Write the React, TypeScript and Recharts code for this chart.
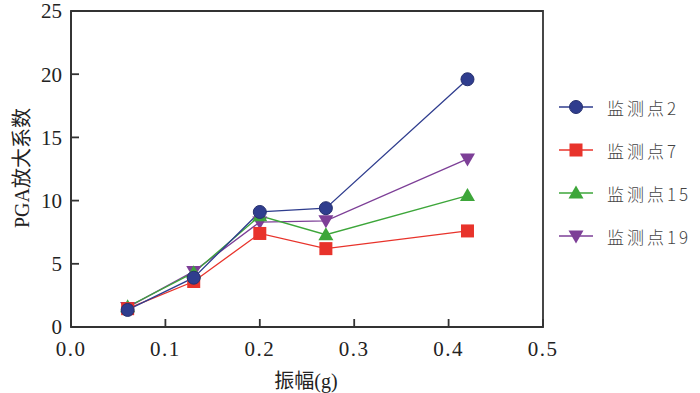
import React from "react";
import {
  LineChart,
  Line,
  XAxis,
  YAxis,
  ReferenceArea,
  Label,
} from "recharts";

// amplitude (g) and PGA amplification per monitoring point
const amplitude = [0.06, 0.13, 0.2, 0.27, 0.42];
const point2 = [1.35, 3.9, 9.1, 9.4, 19.6];
const point7 = [1.45, 3.6, 7.4, 6.2, 7.6];
const point15 = [1.6, 4.3, 8.8, 7.3, 10.4];
const point19 = [1.55, 4.4, 8.3, 8.4, 13.3];

const xTicks = [0, 0.1, 0.2, 0.3, 0.4, 0.5];
const yTicks = [0, 5, 10, 15, 20, 25];

const series = [
  { key: "p2", name: "监测点2", color: "#2F3D8E", shape: "circle" },
  { key: "p7", name: "监测点7", color: "#E8332B", shape: "square" },
  { key: "p15", name: "监测点15", color: "#3DA63A", shape: "up" },
  { key: "p19", name: "监测点19", color: "#7D3F97", shape: "down" },
];

const data = amplitude.map((x, i) => ({
  x,
  p2: point2[i],
  p7: point7[i],
  p15: point15[i],
  p19: point19[i],
}));

const AXIS = "#333333";
const SERIF = "'Liberation Serif', 'Times New Roman', 'Noto Sans CJK SC', serif";

function Marker({ cx, cy, shape, color }: { cx: number; cy: number; shape: string; color: string }) {
  if (cx == null || cy == null) return null;
  if (shape === "circle") {
    return <circle cx={cx} cy={cy} r={6.5} fill={color} stroke="#26306e" strokeWidth={1} />;
  }
  if (shape === "square") {
    return <rect x={cx - 6.5} y={cy - 6.5} width={13} height={13} fill={color} />;
  }
  if (shape === "up") {
    return (
      <polygon
        points={`${cx},${cy - 7.5} ${cx - 7.5},${cy + 5.5} ${cx + 7.5},${cy + 5.5}`}
        fill={color}
      />
    );
  }
  return (
    <polygon
      points={`${cx},${cy + 7.5} ${cx - 7.5},${cy - 5.5} ${cx + 7.5},${cy - 5.5}`}
      fill={color}
    />
  );
}

function LegendBox() {
  return (
    <svg
      width={145}
      height={180}
      style={{ position: "absolute", left: 555, top: 85 }}
    >
      {series.map((s, i) => {
        const y = 22 + i * 43;
        return (
          <g key={s.key}>
            <line x1={4} x2={38} y1={y} y2={y} stroke={s.color} strokeWidth={1.3} />
            <Marker cx={21} cy={y} shape={s.shape} color={s.color} />
            <text
              x={52}
              y={y}
              dominantBaseline="central"
              fontSize={17}
              fill="#444"
              letterSpacing={3}
              style={{ fontFamily: "'Noto Sans CJK SC', sans-serif", fontWeight: 300 }}
            >
              {s.name}
            </text>
          </g>
        );
      })}
    </svg>
  );
}

export default function App() {
  const drawOrder = [...series].reverse();
  return (
    <div style={{ position: "absolute", left: 0, top: 0, width: 700, height: 393, background: "#fff" }}>
      <LineChart
        width={700}
        height={393}
        data={data}
        margin={{ top: 11, right: 157, bottom: 0, left: 0 }}
      >
        <XAxis
          dataKey="x"
          type="number"
          domain={[0, 0.5]}
          ticks={xTicks}
          tickFormatter={(v: number) => v.toFixed(1)}
          height={66}
          stroke={AXIS}
          strokeWidth={1.8}
          tickSize={-8}
          tickMargin={22}
          tick={{ fill: "#222", fontSize: 21, fontFamily: SERIF, letterSpacing: 1.5 }}
          interval={0}
        >
          <Label
            content={() => (
              <text
                x={306}
                y={381}
                textAnchor="middle"
                dominantBaseline="central"
                fontSize={20}
                fill="#222"
                style={{ fontFamily: SERIF }}
              >
                振幅(g)
              </text>
            )}
          />
        </XAxis>
        <YAxis
          type="number"
          domain={[0, 25]}
          ticks={yTicks}
          width={71}
          stroke={AXIS}
          strokeWidth={1.8}
          tickSize={-8}
          tickMargin={17}
          tick={{ fill: "#222", fontSize: 21, fontFamily: SERIF }}
          interval={0}
        >
          <Label
            content={() => (
              <text
                x={22}
                y={168}
                transform="rotate(-90 22 168)"
                textAnchor="middle"
                dominantBaseline="central"
                fontSize={20}
                fill="#222"
                style={{ fontFamily: SERIF }}
              >
                PGA放大系数
              </text>
            )}
          />
        </YAxis>
        <ReferenceArea
          x1={0}
          x2={0.5}
          y1={0}
          y2={25}
          fill="none"
          stroke={AXIS}
          strokeWidth={1.8}
          ifOverflow="visible"
        />
        {drawOrder.map((s) => (
          <Line
            key={s.key}
            dataKey={s.key}
            name={s.name}
            stroke={s.color}
            strokeWidth={1.3}
            isAnimationActive={false}
            dot={(p: any) => (
              <Marker key={`${s.key}-${p.index}`} cx={p.cx} cy={p.cy} shape={s.shape} color={s.color} />
            )}
            activeDot={false}
          />
        ))}
      </LineChart>
      <LegendBox />
    </div>
  );
}
